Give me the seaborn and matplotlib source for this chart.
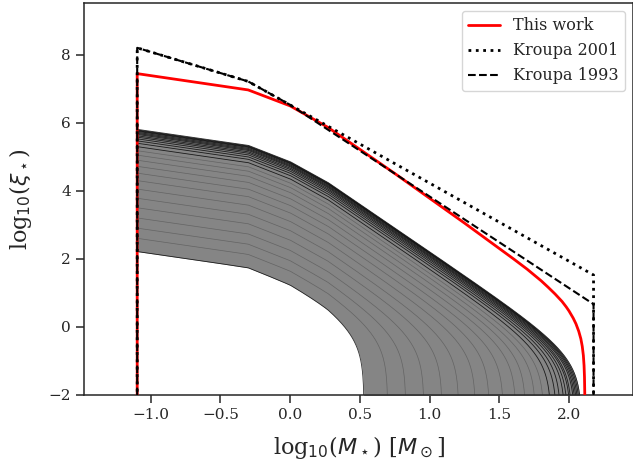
import numpy as np
import pandas as pd
import matplotlib
matplotlib.use("Agg")
import matplotlib.pyplot as plt
import seaborn as sns

# ---------------- data ----------------
# Kroupa 2001 (vertices, log10 M vs log10 xi)
k01_x = [-1.097, -1.097, -0.301, 2.176, 2.176]
k01_y = [-3.0, 8.21, 7.22, 1.52, -3.0]
# Kroupa 1993
k93_x = [-1.097, -1.097, -0.301, 0.0, 2.176, 2.176]
k93_y = [-3.0, 8.21, 7.22, 6.53, 0.66, -3.0]
# This work
red_x = [-1.097, -1.097, -0.301, 0.0, 0.27, 0.5, 0.75, 1.0, 1.25, 1.5, 1.6,
         1.7, 1.75, 1.8, 1.85, 1.9, 1.95, 1.98, 2.0, 2.03, 2.05, 2.07, 2.085,
         2.095, 2.103, 2.108, 2.111, 2.113, 2.114]
red_y = [-3.0, 7.45, 6.97, 6.50, 5.87, 5.22, 4.51, 3.78, 3.05, 2.30, 2.00,
         1.69, 1.52, 1.35, 1.16, 0.96, 0.74, 0.58, 0.46, 0.25, 0.08, -0.14, -0.36,
         -0.58, -0.85, -1.15, -1.48, -1.95, -3.0]

# gray family: common shape (offset relative to the value at the low-mass end)
shape_x = [-1.097, -0.301, 0.0, 0.27, 2.2]
shape_dy = [0.0, -0.47, -0.95, -1.56, -6.96]
# per-curve value at log M = -1.097 and log10 of truncation mass
gray_norm = [5.81, 5.79, 5.77, 5.75, 5.72, 5.69, 5.66, 5.62, 5.58, 5.53, 5.47,
             5.40, 5.30, 5.18, 5.05, 4.90, 4.72, 4.52, 4.30, 4.05, 3.78, 3.50,
             3.20, 2.90, 2.60, 2.21]
gray_logmmax = [2.09, 2.08, 2.07, 2.06, 2.05, 2.04, 2.02, 2.01, 1.99, 1.97, 1.94,
                1.91, 1.87, 1.82, 1.76, 1.69, 1.62, 1.53, 1.43, 1.33, 1.21, 1.09,
                0.96, 0.83, 0.70, 0.53]

x_ticks = [-1.0, -0.5, 0.0, 0.5, 1.0, 1.5, 2.0]
y_ticks = [-2, 0, 2, 4, 6, 8]

# ---------------- build gray curves ----------------
xg = np.linspace(-1.097, 2.2, 1800)
base = np.interp(xg, shape_x, shape_dy)
rows_dark, rows_light = [], []
curves = []
for i, (n, lm) in enumerate(zip(gray_norm, gray_logmmax)):
    r = 10 ** (xg - lm)
    trunc = np.log10(np.clip(1 - r ** 2, 1e-12, None))
    y = np.maximum(n + base + trunc, -3.0)
    curves.append(y)
    df = pd.DataFrame({"x": xg, "y": y, "curve": i})
    if n >= 5.3 or i == len(gray_norm) - 1:
        rows_dark.append(df)
    else:
        rows_light.append(df)
dark_df = pd.concat(rows_dark, ignore_index=True)
light_df = pd.concat(rows_light, ignore_index=True)

# ---------------- plot ----------------
sns.set_style("ticks")
plt.rcParams["font.family"] = ["DejaVu Serif"]
plt.rcParams.update({
    "xtick.labelsize": 11, "ytick.labelsize": 11,
    "xtick.major.size": 6, "ytick.major.size": 6,
    "xtick.major.width": 1.1, "ytick.major.width": 1.1,
    "axes.linewidth": 1.1,
})

fig = plt.figure(figsize=(6.33, 4.65), dpi=100)
ax = fig.add_axes([84 / 633, 70.5 / 465, 549 / 633, 391.5 / 465])

ax.fill_between(xg, curves[-1], curves[0], color="#858585", lw=0, zorder=1)
sns.lineplot(data=light_df, x="x", y="y", units="curve", estimator=None,
             sort=False, color="black", lw=0.5, alpha=0.25, legend=False,
             ax=ax, zorder=2)
sns.lineplot(data=dark_df, x="x", y="y", units="curve", estimator=None,
             sort=False, color="black", lw=0.6, alpha=0.8, legend=False,
             ax=ax, zorder=2)

sns.lineplot(x=red_x, y=red_y, sort=False, estimator=None, color="red",
             lw=2.0, label="This work", ax=ax, zorder=3)
sns.lineplot(x=k01_x, y=k01_y, sort=False, estimator=None, color="black",
             lw=2.0, ls=":", label="Kroupa 2001", ax=ax, zorder=4)
sns.lineplot(x=k93_x, y=k93_y, sort=False, estimator=None, color="black",
             lw=1.5, ls="--", label="Kroupa 1993", ax=ax, zorder=5)

ax.set_xlim(-1.4785, 2.459)
ax.set_ylim(-2, 9.53)
ax.set_xticks(x_ticks)
ax.set_yticks(y_ticks)
ax.set_xlabel(r"log$_{10}$($M_\star$) [$M_\odot$]", fontsize=16, labelpad=9)
ax.set_ylabel(r"log$_{10}$($\xi_\star$)", fontsize=16, labelpad=10)
ax.legend(loc="upper right", fontsize=11.5, frameon=True)

fig.savefig("out.png", dpi=100)
